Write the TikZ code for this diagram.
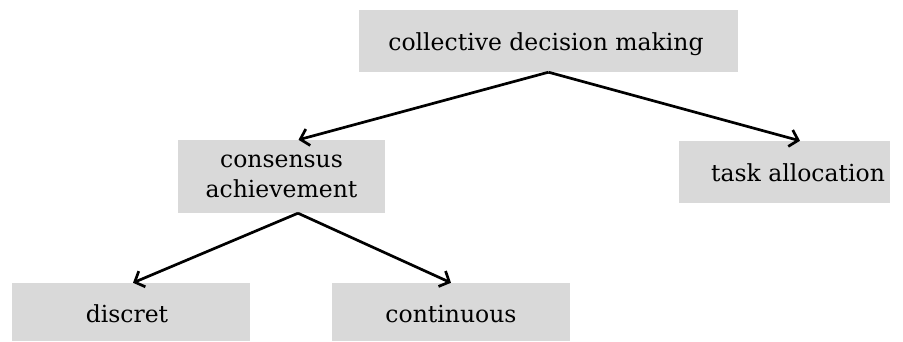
\documentclass[tikz,border=0pt]{standalone}
\usepackage{fontspec}
\setmainfont{DejaVu Serif}
\usetikzlibrary{arrows.meta}
\definecolor{boxgray}{HTML}{D9D9D9}
\begin{document}
\begin{tikzpicture}[x=1pt,y=1pt,
  box/.style={fill=boxgray, inner sep=0pt, align=center, font=\fontsize{23.5}{30}\selectfont},
  conn/.style={line width=2.7pt, -{Straight Barb[length=8pt,width=17pt,line width=2.7pt]}}]
\useasboundingbox (0,0) rectangle (903,341);
\node[box, minimum width=379pt, minimum height=62pt] (top) at (548.5,300) {};
\node[box, fill=none] (toptext) at (546,297) {collective decision making};
\node[box, minimum width=207pt, minimum height=73pt] (cons) at (281.5,164.5) {consensus\\achievement};
\node[box, minimum width=211pt, minimum height=62pt] (task) at (784.5,169) {};
\node[box, fill=none] (tasktext) at (798,168) {task allocation};
\node[box, minimum width=238pt, minimum height=58pt] (disc) at (131,29) {};
\node[box, fill=none] (disctext) at (127,27) {discret};
\node[box, minimum width=238pt, minimum height=58pt] (cont) at (451,29) {};
\node[box, fill=none] (conttext) at (451,27) {continuous};
\draw[conn] (top.south) -- ([xshift=17pt]cons.north);
\draw[conn] (top.south) -- ([xshift=15.5pt]task.north);
\draw[conn] ([xshift=16.5pt]cons.south) -- ([xshift=2pt]disc.north);
\draw[conn] ([xshift=16.5pt]cons.south) -- (cont.north);
\end{tikzpicture}
\end{document}
